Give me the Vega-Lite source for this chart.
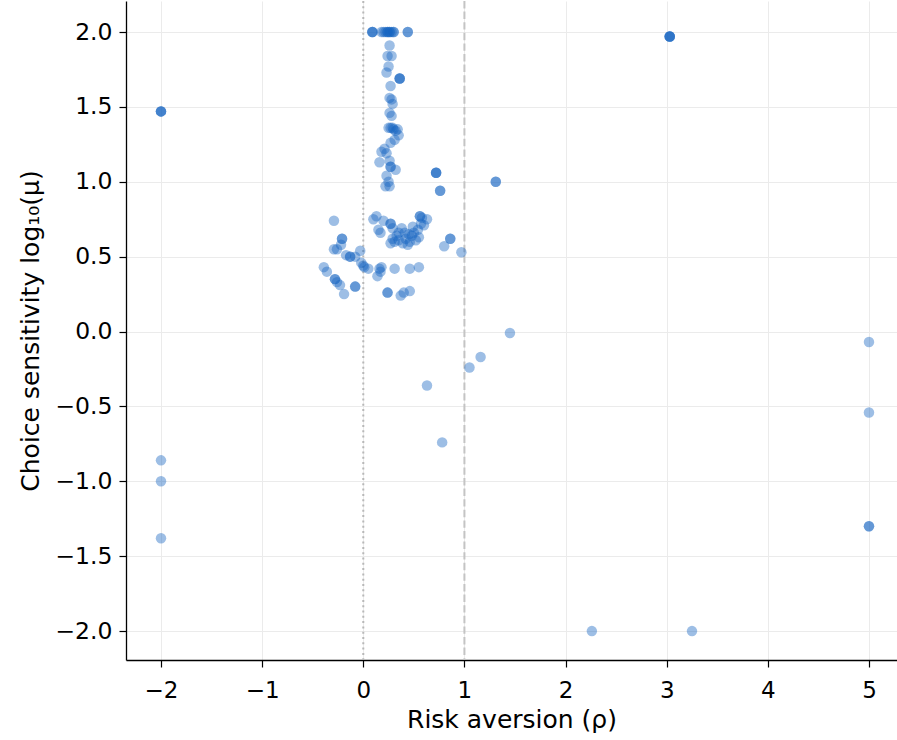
{
  "$schema": "https://vega.github.io/schema/vega-lite/v6.json",
  "autosize": "none",
  "width": 771,
  "height": 659,
  "padding": {"left": 126, "top": 1, "right": 0, "bottom": 80},
  "background": "white",
  "config": {"view": {"stroke": null}, "font": "DejaVu Sans"},
  "datasets": {
    "pts": [
      {"rho": 0.09, "logmu": 2.0}, {"rho": 0.09, "logmu": 2.0}, {"rho": 0.09, "logmu": 2.0},
      {"rho": 0.18, "logmu": 2.0}, {"rho": 0.2, "logmu": 2.0}, {"rho": 0.22, "logmu": 2.0},
      {"rho": 0.24, "logmu": 2.0}, {"rho": 0.24, "logmu": 2.0}, {"rho": 0.26, "logmu": 2.0},
      {"rho": 0.26, "logmu": 2.0}, {"rho": 0.28, "logmu": 2.0}, {"rho": 0.3, "logmu": 2.0},
      {"rho": 0.3, "logmu": 2.0}, {"rho": 0.44, "logmu": 2.0}, {"rho": 0.44, "logmu": 2.0},
      {"rho": 0.26, "logmu": 1.91},
      {"rho": 0.24, "logmu": 1.84}, {"rho": 0.28, "logmu": 1.84},
      {"rho": 0.25, "logmu": 1.77}, {"rho": 0.23, "logmu": 1.73},
      {"rho": 0.36, "logmu": 1.69}, {"rho": 0.36, "logmu": 1.69}, {"rho": 0.36, "logmu": 1.69},
      {"rho": 0.27, "logmu": 1.64},
      {"rho": 0.26, "logmu": 1.56}, {"rho": 0.28, "logmu": 1.55}, {"rho": 0.29, "logmu": 1.52},
      {"rho": 0.26, "logmu": 1.46}, {"rho": 0.28, "logmu": 1.44},
      {"rho": 0.25, "logmu": 1.36}, {"rho": 0.27, "logmu": 1.36}, {"rho": 0.3, "logmu": 1.35},
      {"rho": 0.32, "logmu": 1.34}, {"rho": 0.34, "logmu": 1.35}, {"rho": 0.29, "logmu": 1.36},
      {"rho": 0.35, "logmu": 1.31}, {"rho": 0.31, "logmu": 1.28}, {"rho": 0.27, "logmu": 1.26},
      {"rho": 0.21, "logmu": 1.22}, {"rho": 0.18, "logmu": 1.2}, {"rho": 0.23, "logmu": 1.19},
      {"rho": 0.16, "logmu": 1.13}, {"rho": 0.26, "logmu": 1.14},
      {"rho": 0.27, "logmu": 1.1}, {"rho": 0.27, "logmu": 1.1}, {"rho": 0.32, "logmu": 1.08},
      {"rho": 0.23, "logmu": 1.04}, {"rho": 0.25, "logmu": 1.0}, {"rho": 0.22, "logmu": 0.97},
      {"rho": 0.26, "logmu": 0.97},
      {"rho": 0.72, "logmu": 1.06}, {"rho": 0.72, "logmu": 1.06}, {"rho": 0.72, "logmu": 1.06},
      {"rho": 0.76, "logmu": 0.94}, {"rho": 0.76, "logmu": 0.94},
      {"rho": 1.31, "logmu": 1.0}, {"rho": 1.31, "logmu": 1.0},
      {"rho": 0.1, "logmu": 0.75}, {"rho": 0.13, "logmu": 0.77}, {"rho": 0.2, "logmu": 0.74},
      {"rho": 0.17, "logmu": 0.66}, {"rho": 0.15, "logmu": 0.68}, {"rho": 0.27, "logmu": 0.72},
      {"rho": 0.27, "logmu": 0.72}, {"rho": 0.29, "logmu": 0.69}, {"rho": 0.38, "logmu": 0.69},
      {"rho": 0.35, "logmu": 0.66},
      {"rho": 0.56, "logmu": 0.77}, {"rho": 0.56, "logmu": 0.77}, {"rho": 0.58, "logmu": 0.76},
      {"rho": 0.63, "logmu": 0.75}, {"rho": 0.6, "logmu": 0.71}, {"rho": 0.57, "logmu": 0.72},
      {"rho": 0.54, "logmu": 0.68}, {"rho": 0.5, "logmu": 0.66}, {"rho": 0.48, "logmu": 0.64},
      {"rho": 0.45, "logmu": 0.65}, {"rho": 0.42, "logmu": 0.62}, {"rho": 0.35, "logmu": 0.61},
      {"rho": 0.29, "logmu": 0.62}, {"rho": 0.27, "logmu": 0.59}, {"rho": 0.39, "logmu": 0.59},
      {"rho": 0.46, "logmu": 0.6}, {"rho": 0.52, "logmu": 0.61}, {"rho": 0.55, "logmu": 0.63},
      {"rho": 0.33, "logmu": 0.64}, {"rho": 0.44, "logmu": 0.58}, {"rho": 0.31, "logmu": 0.6},
      {"rho": 0.49, "logmu": 0.7}, {"rho": 0.41, "logmu": 0.66},
      {"rho": 0.8, "logmu": 0.57}, {"rho": 0.86, "logmu": 0.62}, {"rho": 0.86, "logmu": 0.62},
      {"rho": 0.97, "logmu": 0.53},
      {"rho": -0.29, "logmu": 0.74},
      {"rho": -0.21, "logmu": 0.62}, {"rho": -0.21, "logmu": 0.62}, {"rho": -0.22, "logmu": 0.58},
      {"rho": -0.29, "logmu": 0.55}, {"rho": -0.26, "logmu": 0.55}, {"rho": -0.17, "logmu": 0.51},
      {"rho": -0.13, "logmu": 0.5}, {"rho": -0.13, "logmu": 0.5}, {"rho": -0.08, "logmu": 0.5},
      {"rho": -0.03, "logmu": 0.54}, {"rho": -0.02, "logmu": 0.46}, {"rho": 0.0, "logmu": 0.44},
      {"rho": 0.01, "logmu": 0.43}, {"rho": 0.05, "logmu": 0.42}, {"rho": 0.16, "logmu": 0.42},
      {"rho": 0.18, "logmu": 0.43},
      {"rho": -0.39, "logmu": 0.43}, {"rho": -0.36, "logmu": 0.4},
      {"rho": -0.28, "logmu": 0.35}, {"rho": -0.28, "logmu": 0.35}, {"rho": -0.26, "logmu": 0.33},
      {"rho": -0.23, "logmu": 0.31},
      {"rho": -0.19, "logmu": 0.25}, {"rho": -0.08, "logmu": 0.3}, {"rho": -0.08, "logmu": 0.3},
      {"rho": 0.14, "logmu": 0.37}, {"rho": 0.17, "logmu": 0.4},
      {"rho": 0.31, "logmu": 0.42}, {"rho": 0.46, "logmu": 0.42}, {"rho": 0.55, "logmu": 0.43},
      {"rho": 0.24, "logmu": 0.26}, {"rho": 0.24, "logmu": 0.26}, {"rho": 0.37, "logmu": 0.24},
      {"rho": 0.4, "logmu": 0.26}, {"rho": 0.46, "logmu": 0.27},
      {"rho": -2.0, "logmu": 1.47}, {"rho": -2.0, "logmu": 1.47}, {"rho": -2.0, "logmu": 1.47},
      {"rho": 3.03, "logmu": 1.97}, {"rho": 3.03, "logmu": 1.97}, {"rho": 3.03, "logmu": 1.97},
      {"rho": 3.03, "logmu": 1.97},
      {"rho": 1.45, "logmu": -0.01}, {"rho": 1.16, "logmu": -0.17}, {"rho": 1.05, "logmu": -0.24},
      {"rho": 0.63, "logmu": -0.36}, {"rho": 0.78, "logmu": -0.74},
      {"rho": -2.0, "logmu": -0.86}, {"rho": -2.0, "logmu": -1.0}, {"rho": -2.0, "logmu": -1.38},
      {"rho": 5.0, "logmu": -0.07}, {"rho": 5.0, "logmu": -0.54},
      {"rho": 5.0, "logmu": -1.3}, {"rho": 5.0, "logmu": -1.3},
      {"rho": 2.26, "logmu": -2.0}, {"rho": 3.25, "logmu": -2.0}
    ],
    "refs": [
      {"x": 0, "kind": "dotted"},
      {"x": 1, "kind": "dashed"}
    ]
  },
  "layer": [
    {
      "data": {"name": "refs"},
      "transform": [{"filter": "datum.kind === 'dotted'"}],
      "mark": {"type": "rule", "color": "#b8b8b8", "strokeWidth": 2, "strokeDash": [2, 3.3]},
      "encoding": {
        "x": {"field": "x", "type": "quantitative", "scale": {"domain": [-2.346, 5.277], "nice": false, "zero": false}}
      }
    },
    {
      "data": {"name": "refs"},
      "transform": [{"filter": "datum.kind === 'dashed'"}],
      "mark": {"type": "rule", "color": "#c4c4c4", "strokeWidth": 2, "strokeDash": [7.4, 3.2]},
      "encoding": {
        "x": {"field": "x", "type": "quantitative"}
      }
    },
    {
      "data": {"name": "pts"},
      "mark": {"type": "circle", "size": 110, "color": "#1565c0", "opacity": 0.42, "strokeWidth": 0},
      "encoding": {
        "x": {
          "field": "rho", "type": "quantitative",
          "scale": {"domain": [-2.346, 5.277], "nice": false, "zero": false},
          "axis": {
            "title": "Risk aversion (ρ)", "values": [-2, -1, 0, 1, 2, 3, 4, 5],
            "format": "d", "grid": true, "gridColor": "#ebebeb", "gridWidth": 1,
            "domainColor": "#000000", "domainWidth": 1.3, "tickColor": "#000000",
            "tickSize": 7, "tickWidth": 1.2, "labelFontSize": 23, "labelColor": "#000000",
            "labelPadding": 12, "titleFontSize": 25, "titleFontWeight": "normal",
            "titleColor": "#000000", "titlePadding": 5
          }
        },
        "y": {
          "field": "logmu", "type": "quantitative",
          "scale": {"domain": [-2.193, 2.207], "nice": false, "zero": false},
          "axis": {
            "title": "Choice sensitivity log₁₀(μ)", "values": [-2, -1.5, -1, -0.5, 0, 0.5, 1, 1.5, 2],
            "format": ".1f", "grid": true, "gridColor": "#ebebeb", "gridWidth": 1,
            "domainColor": "#000000", "domainWidth": 1.3, "tickColor": "#000000",
            "tickSize": 7, "tickWidth": 1.2, "labelFontSize": 23.5, "labelColor": "#000000",
            "labelPadding": 7, "titleFontSize": 25, "titleFontWeight": "normal",
            "titleColor": "#000000", "titlePadding": 11
          }
        }
      }
    }
  ]
}
